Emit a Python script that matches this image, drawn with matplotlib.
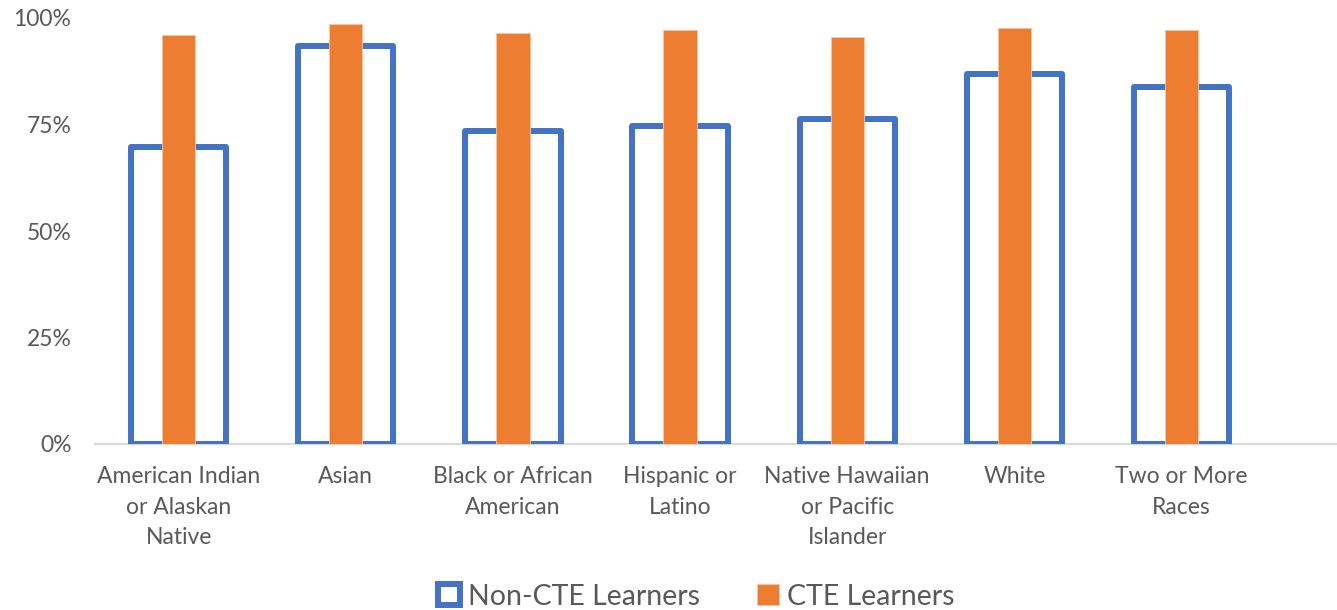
import matplotlib.pyplot as plt
import numpy as np
from matplotlib.ticker import PercentFormatter

# data
categories = [
    "American Indian\nor Alaskan\nNative",
    "Asian",
    "Black or African\nAmerican",
    "Hispanic or\nLatino",
    "Native Hawaiian\nor Pacific\nIslander",
    "White",
    "Two or More\nRaces",
]
non_cte = [0.698, 0.935, 0.735, 0.746, 0.763, 0.869, 0.838]
cte = [0.961, 0.986, 0.965, 0.971, 0.956, 0.977, 0.971]

BLUE = "#4472C4"
ORANGE = "#ED7D31"
GREY_TXT = "#595959"

plt.rcParams["font.family"] = ["Lato", "DejaVu Sans"]

fig = plt.figure(figsize=(13.37, 6.10), dpi=100)
ax = fig.add_axes([95 / 1337, 1 - 444 / 610, 1 - 95 / 1337, (444 - 18) / 610])

x = np.arange(len(categories))
ax.bar(x, non_cte, width=0.57, facecolor="white", edgecolor=BLUE,
       linewidth=4.3, joinstyle="round", label="Non-CTE Learners", zorder=2)
ax.bar(x, cte, width=0.2, color=ORANGE, edgecolor="#F6C7A6", linewidth=0.6,
       label="CTE Learners", zorder=3)

ax.set_xlim(-0.5, 6.93)
ax.set_ylim(0, 1)
ax.set_yticks([0, 0.25, 0.5, 0.75, 1.0])
ax.yaxis.set_major_formatter(PercentFormatter(1.0, decimals=0))
ax.set_xticks(x)
ax.set_xticklabels(categories, linespacing=1.55)

for s in ["top", "right", "left"]:
    ax.spines[s].set_visible(False)
ax.spines["bottom"].set_color("#D9D9D9")
ax.spines["bottom"].set_linewidth(1.6)
ax.spines["bottom"].set_zorder(1)

ax.tick_params(axis="both", length=0, labelcolor=GREY_TXT, labelsize=16.5)
ax.tick_params(axis="y", pad=17)
ax.tick_params(axis="x", pad=16)

fig.legend(loc="center", bbox_to_anchor=(0.521, 0.022), ncol=2, frameon=False,
           fontsize=20.5, labelcolor=GREY_TXT, handlelength=0.75, handleheight=0.75,
           handletextpad=0.3, columnspacing=2.0)

fig.savefig("out.png", dpi=100)
